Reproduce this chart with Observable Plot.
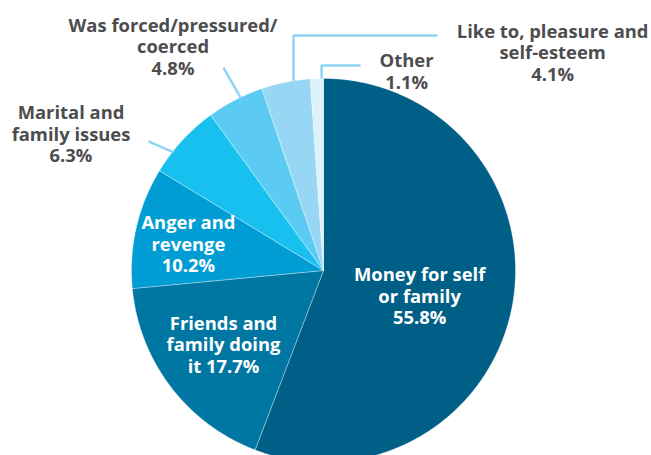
<!DOCTYPE html>
<html>
<head>
<meta charset="utf-8">
<script src="https://cdn.jsdelivr.net/npm/d3@7"></script>
<script src="https://cdn.jsdelivr.net/npm/@observablehq/plot@0.6"></script>
<style>
  html, body { margin: 0; padding: 0; background: #ffffff; }
  #chart svg { display: block; }
</style>
</head>
<body>
<div id="chart"></div>
<script>
// ---- data ----
const categories = [
  "Money for self or family",
  "Friends and family doing it",
  "Anger and revenge",
  "Marital and family issues",
  "Was forced/pressured/coerced",
  "Like to, pleasure and self-esteem",
  "Other"
];
const values = [55.8, 17.7, 10.2, 6.3, 4.8, 4.1, 1.1];
const labelWrap = [
  "Money for self\nor family\n",
  "Friends and\nfamily doing\nit ",
  "Anger and\nrevenge\n",
  "Marital and\nfamily issues\n",
  "Was forced/pressured/\ncoerced\n",
  "Like to, pleasure and\nself-esteem\n",
  "Other\n"
];
const colors = ["#005f86", "#0076a2", "#009dd5", "#18c0f0", "#5ccbf4", "#98d7f4", "#ddf1fb"];

// ---- layout (pie units: radius = 1, angles in degrees clockwise from 12 o'clock) ----
const labelInside = [true, true, true, false, false, false, false];
const labelPolar = [
  [0.518, 104.9], [0.647, 233.6], [0.717, 281.1],
  [1.495, 298.4], [1.407, 326.15], [1.648, 46.4], [1.126, 22.6]
];
const leaders = [
  {name: "Marital and family issues", pts: [[-0.911, 0.672], [-0.781, 0.615]]},
  {name: "Was forced/pressured/coerced", pts: [[-0.521, 1.057], [-0.432, 0.901]]},
  {name: "Like to, pleasure and self-esteem", pts: [[-0.156, 0.988], [-0.156, 1.224], [0.594, 1.224]]},
  {name: "Other", pts: [[-0.010, 1.000], [-0.010, 1.068], [0.193, 1.068]]}
];

const W = 651, H = 455, R = 192, CX = 323, CY = 270;

const arcs = d3.pie().sort(null).value(d => d)(values);
const slicePts = [];
arcs.forEach((a, i) => {
  const n = Math.max(4, Math.ceil((a.endAngle - a.startAngle) / 0.005));
  slicePts.push({name: categories[i], x: 0, y: 0});
  for (let k = 0; k <= n; k++) {
    const t = a.startAngle + (a.endAngle - a.startAngle) * k / n;
    slicePts.push({name: categories[i], x: Math.sin(t), y: Math.cos(t)});
  }
  slicePts.push({name: categories[i], x: 0, y: 0});
});

const labels = categories.map((c, i) => {
  const [r, deg] = labelPolar[i];
  const t = deg * Math.PI / 180;
  return {
    name: c,
    x: r * Math.sin(t),
    y: r * Math.cos(t),
    text: labelWrap[i] + values[i].toFixed(1) + "%",
    inside: labelInside[i]
  };
});

const leaderPts = leaders.flatMap(l => l.pts.map(([x, y]) => ({name: l.name, x, y})));

const chart = Plot.plot({
  width: W,
  height: H,
  margin: 0,
  x: {domain: [-CX / R, (W - CX) / R], axis: null},
  y: {domain: [(CY - H) / R, CY / R], axis: null},
  color: {domain: categories, range: colors},
  style: {background: "#ffffff", fontFamily: "'Open Sans', sans-serif"},
  marks: [
    Plot.line(slicePts, {x: "x", y: "y", z: "name", fill: "name", stroke: "#ffffff", strokeWidth: 0.6, strokeOpacity: 0.55}),
    Plot.line(leaderPts, {x: "x", y: "y", z: "name", stroke: "#8fd4f3", strokeWidth: 2.5, strokeLinejoin: "miter", strokeLinecap: "butt"}),
    Plot.text(labels.filter(d => d.inside), {x: "x", y: "y", text: "text", fill: "#ffffff", fontSize: 18.4, fontWeight: 700, lineHeight: 1.17, textAnchor: "middle"}),
    Plot.text(labels.filter(d => !d.inside), {x: "x", y: "y", text: "text", fill: "#4d4d4f", fontSize: 18.4, fontWeight: 700, lineHeight: 1.17, textAnchor: "middle"})
  ]
});
document.getElementById("chart").appendChild(chart);
</script>
</body>
</html>
